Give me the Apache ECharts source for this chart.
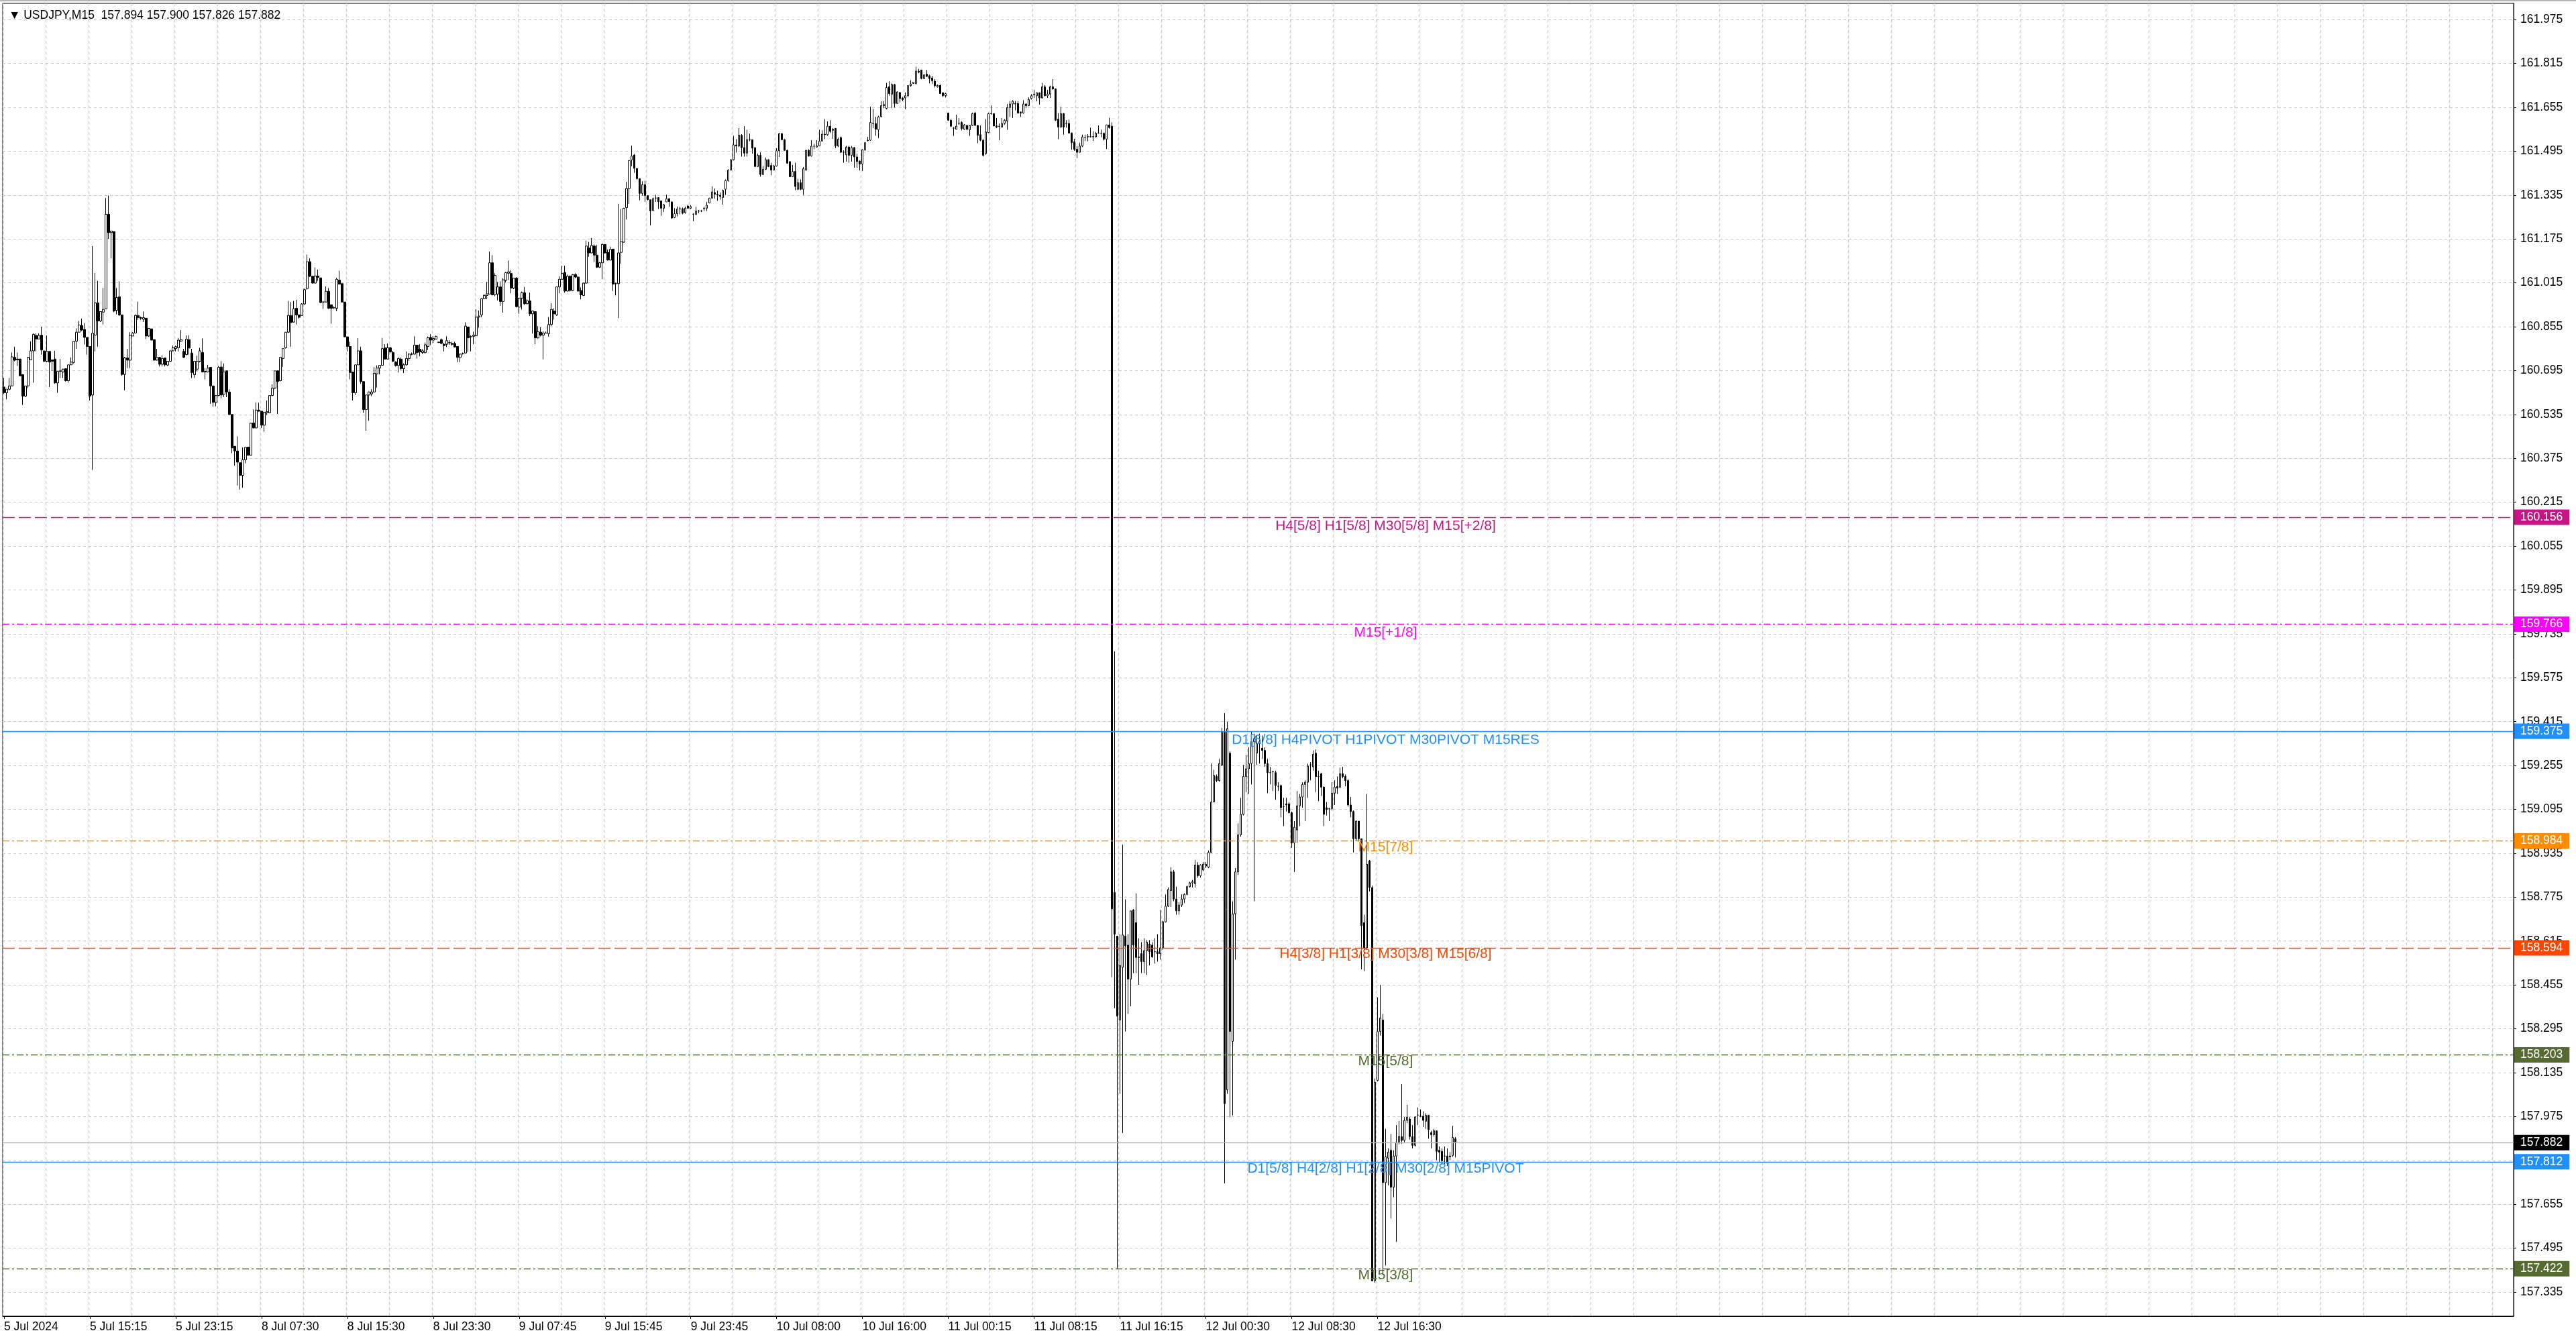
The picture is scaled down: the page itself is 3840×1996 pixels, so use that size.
<!DOCTYPE html>
<html>
<head>
<meta charset="utf-8">
<title>USDJPY,M15</title>
<script src="https://cdn.jsdelivr.net/npm/echarts@6.0.0/dist/echarts.min.js"></script>
<style>
  html, body { margin: 0; padding: 0; background: #fff; }
  #chart { width: 3840px; height: 1996px; }
</style>
</head>
<body>
<div id="chart"></div>
<script>
// symbol / timeframe shown in the top-left corner
var symbolName = "USDJPY,M15";

// time labels, one every 32 bars (8 hours of M15)
var timeLabels = ["5 Jul 2024", "5 Jul 15:15", "5 Jul 23:15", "8 Jul 07:30", "8 Jul 15:30", "8 Jul 23:30",
  "9 Jul 07:45", "9 Jul 15:45", "9 Jul 23:45", "10 Jul 08:00", "10 Jul 16:00", "11 Jul 00:15",
  "11 Jul 08:15", "11 Jul 16:15", "12 Jul 00:30", "12 Jul 08:30", "12 Jul 16:30"];

// price scale labels on the right
var priceTicks = [161.975, 161.815, 161.655, 161.495, 161.335, 161.175, 161.015, 160.855, 160.695, 160.535,
  160.375, 160.215, 160.055, 159.895, 159.735, 159.575, 159.415, 159.255, 159.095, 158.935,
  158.775, 158.615, 158.455, 158.295, 158.135, 157.975, 157.815, 157.655, 157.495, 157.335];

// M15 bars, oldest first
var opens = [
  160.635,160.614,160.627,160.639,160.743,160.737,160.737,160.680,160.602,160.639,
  160.734,160.767,160.823,160.810,160.824,160.767,160.729,160.765,160.734,160.737,
  160.650,160.694,160.690,160.702,160.658,160.716,160.725,160.802,160.835,160.859,
  160.845,160.816,160.783,160.606,160.824,160.942,160.876,160.908,160.920,161.265,
  161.198,161.202,160.915,160.964,160.898,160.681,160.741,160.733,160.821,160.832,
  160.896,160.888,160.882,160.886,160.821,160.847,160.808,160.733,160.743,160.718,
  160.741,160.715,160.729,160.767,160.775,160.778,160.802,160.765,160.753,160.808,
  160.759,160.680,160.700,160.729,160.761,160.692,160.690,160.707,160.639,160.579,
  160.604,160.708,160.609,160.694,160.617,160.535,160.419,160.402,160.359,160.313,
  160.370,160.416,160.386,160.504,160.486,160.551,160.547,160.496,160.541,160.541,
  160.604,160.631,160.694,160.658,160.739,160.778,160.835,160.896,160.872,160.922,
  160.898,160.896,160.938,160.994,161.092,161.039,161.014,161.040,161.033,160.945,
  160.945,160.984,160.935,160.924,160.922,161.025,161.012,160.945,160.818,160.783,
  160.690,160.614,160.716,160.767,160.655,160.553,160.606,160.610,160.617,160.683,
  160.704,160.714,160.778,160.737,160.778,160.761,160.726,160.713,160.737,160.702,
  160.716,160.739,160.755,160.755,160.788,160.773,160.761,160.761,160.783,160.816,
  160.806,160.810,160.799,160.808,160.791,160.791,160.797,160.794,160.794,160.783,
  160.743,160.757,160.759,160.854,160.818,160.820,160.822,160.890,160.898,160.957,
  160.969,160.974,161.088,160.971,160.974,161.000,160.947,161.024,161.050,161.049,
  160.996,161.032,160.926,160.959,160.979,160.939,160.949,160.902,160.910,160.814,
  160.835,160.824,160.832,160.830,160.863,160.912,160.898,161.000,161.028,161.053,
  160.985,161.039,160.987,161.045,161.036,160.987,160.969,161.014,161.142,161.124,
  161.149,161.116,161.072,161.088,161.155,161.126,161.098,161.138,161.012,161.012,
  161.126,161.163,161.289,161.359,161.463,161.481,161.432,161.395,161.341,161.373,
  161.333,161.318,161.279,161.324,161.326,161.314,161.287,161.310,161.322,161.310,
  161.253,161.267,161.285,161.285,161.271,161.295,161.287,161.265,161.265,161.277,
  161.277,161.285,161.287,161.306,161.324,161.344,161.338,161.334,161.326,161.356,
  161.388,161.426,161.464,161.518,161.514,161.553,161.508,161.488,161.537,161.537,
  161.508,161.439,161.480,161.410,161.429,161.464,161.443,161.426,161.441,161.496,
  161.559,161.537,161.498,161.457,161.402,161.421,161.356,161.380,161.356,161.426,
  161.498,161.478,161.513,161.510,161.514,161.532,161.557,161.555,161.586,161.571,
  161.578,161.514,161.545,161.491,161.482,161.510,161.480,161.508,161.474,161.459,
  161.448,161.500,161.533,161.535,161.597,161.596,161.573,161.621,161.661,161.651,
  161.730,161.703,161.738,161.669,161.709,161.689,161.689,161.697,161.734,161.742,
  161.742,161.787,161.791,161.760,161.776,161.770,161.762,161.750,161.730,161.735,
  161.708,161.697,161.634,161.608,161.579,161.575,161.596,161.600,161.575,161.589,
  161.573,161.589,161.634,161.589,161.555,161.535,161.486,161.563,161.632,161.632,
  161.587,161.586,161.583,161.596,161.605,161.654,161.667,161.667,161.669,161.638,
  161.634,161.667,161.661,161.687,161.701,161.697,161.708,161.689,161.730,161.697,
  161.703,161.730,161.722,161.612,161.583,161.632,161.596,161.596,161.561,161.529,
  161.502,161.491,161.514,161.545,161.548,161.547,161.548,161.547,161.561,161.560,
  161.560,161.539,161.591,161.586,158.792,158.633,158.327,158.519,158.633,158.600,
  158.476,158.728,158.682,158.557,158.569,158.540,158.580,158.604,158.600,158.576,
  158.576,158.569,158.590,158.685,158.742,158.799,158.867,158.768,158.725,158.746,
  158.768,158.785,158.813,158.827,158.824,158.892,158.853,158.874,158.888,158.884,
  158.938,159.122,159.215,159.200,159.257,159.378,158.072,159.300,158.249,158.714,
  158.867,159.002,159.077,159.215,159.243,159.262,159.342,159.300,159.335,159.318,
  159.310,159.262,159.229,159.233,159.229,159.179,159.182,159.105,159.115,159.115,
  159.083,158.973,159.020,159.108,159.140,159.186,159.194,159.257,159.250,159.300,
  159.215,159.225,159.176,159.101,159.098,159.098,159.154,159.179,159.176,159.225,
  159.215,159.200,159.111,159.087,158.988,159.052,158.988,158.682,158.590,158.907,
  158.810,157.376,158.107,158.285,158.327,157.734,157.823,157.852,157.717,157.831,
  157.881,157.902,157.888,157.961,157.966,157.902,157.870,157.980,157.976,157.976,
  157.958,157.980,157.916,157.909,157.923,157.852,157.848,157.831,157.831,157.831,
  157.833,157.894];
var closes = [
  160.614,160.627,160.639,160.745,160.733,160.734,160.676,160.602,160.639,160.743,
  160.767,160.827,160.810,160.823,160.770,160.729,160.765,160.726,160.729,160.650,
  160.692,160.692,160.700,160.658,160.716,160.726,160.802,160.835,160.861,160.843,
  160.816,160.783,160.602,160.831,160.942,160.876,160.910,160.918,161.265,161.198,
  161.204,160.912,160.961,160.898,160.681,160.741,160.733,160.823,160.832,160.896,
  160.888,160.886,160.888,160.821,160.849,160.806,160.733,160.743,160.718,160.739,
  160.716,160.729,160.767,160.778,160.782,160.806,160.808,160.743,160.809,160.777,
  160.688,160.729,160.729,160.767,160.690,160.690,160.704,160.639,160.579,160.604,
  160.707,160.606,160.690,160.617,160.535,160.413,160.402,160.361,160.313,160.370,
  160.415,160.386,160.503,160.486,160.551,160.547,160.496,160.543,160.545,160.604,
  160.631,160.694,160.655,160.743,160.775,160.835,160.896,160.870,160.920,160.898,
  160.889,160.938,160.990,161.092,161.039,161.014,161.040,161.035,160.943,160.945,
  160.984,160.922,160.922,160.924,161.028,161.010,160.945,160.818,160.783,160.688,
  160.614,160.716,160.767,160.655,160.553,160.606,160.617,160.617,160.685,160.704,
  160.714,160.775,160.737,160.778,160.763,160.729,160.713,160.739,160.702,160.716,
  160.739,160.755,160.755,160.788,160.761,160.763,160.767,160.789,160.815,160.806,
  160.812,160.820,160.797,160.794,160.786,160.804,160.796,160.791,160.781,160.743,
  160.755,160.757,160.857,160.814,160.819,160.824,160.890,160.894,160.957,160.969,
  160.975,161.088,160.971,161.042,161.000,160.947,161.026,161.052,161.055,160.996,
  161.032,160.928,160.959,160.979,160.939,160.949,160.902,160.912,160.814,160.837,
  160.824,160.832,160.832,160.863,160.918,160.902,161.000,161.028,161.049,160.985,
  161.039,160.987,161.045,161.036,160.985,160.971,161.014,161.149,161.124,161.151,
  161.116,161.072,161.088,161.155,161.124,161.098,161.137,161.010,161.012,161.124,
  161.165,161.287,161.359,161.461,161.477,161.432,161.395,161.341,161.373,161.333,
  161.318,161.277,161.322,161.324,161.311,161.287,161.300,161.322,161.311,161.251,
  161.267,161.284,161.285,161.269,161.287,161.287,161.293,161.265,161.277,161.277,
  161.277,161.287,161.298,161.324,161.346,161.338,161.336,161.330,161.352,161.388,
  161.426,161.464,161.518,161.514,161.553,161.508,161.488,161.537,161.537,161.506,
  161.439,161.480,161.410,161.429,161.464,161.439,161.426,161.441,161.496,161.559,
  161.537,161.498,161.451,161.402,161.421,161.366,161.380,161.356,161.431,161.498,
  161.478,161.513,161.513,161.514,161.532,161.557,161.555,161.586,161.567,161.575,
  161.514,161.539,161.491,161.491,161.510,161.480,161.508,161.474,161.457,161.448,
  161.500,161.526,161.535,161.600,161.596,161.575,161.620,161.661,161.665,161.727,
  161.705,161.738,161.669,161.711,161.687,161.683,161.697,161.734,161.740,161.746,
  161.787,161.783,161.760,161.773,161.768,161.760,161.752,161.734,161.735,161.705,
  161.697,161.705,161.608,161.586,161.579,161.586,161.597,161.578,161.591,161.575,
  161.589,161.632,161.589,161.553,161.535,161.480,161.565,161.632,161.632,161.587,
  161.583,161.585,161.596,161.608,161.654,161.667,161.677,161.669,161.634,161.634,
  161.667,161.661,161.683,161.697,161.703,161.708,161.689,161.730,161.697,161.703,
  161.730,161.722,161.608,161.583,161.632,161.583,161.597,161.561,161.526,161.502,
  161.491,161.514,161.547,161.545,161.547,161.548,161.547,161.561,161.561,161.560,
  161.539,161.591,161.581,158.732,158.640,158.341,158.526,158.637,158.597,158.476,
  158.725,158.600,158.555,158.555,158.540,158.580,158.611,158.576,158.557,158.576,
  158.569,158.590,158.685,158.742,158.803,158.867,158.768,158.725,158.746,158.768,
  158.785,158.813,158.827,158.831,158.892,158.853,158.892,158.895,158.895,158.938,
  159.122,159.219,159.200,159.262,159.378,158.022,159.389,158.285,158.714,158.867,
  159.002,159.077,159.215,159.243,159.262,159.342,159.352,159.335,159.342,159.310,
  159.262,159.229,159.229,159.233,159.182,159.179,159.101,159.105,159.111,159.083,
  158.973,159.030,159.108,159.140,159.186,159.194,159.253,159.257,159.296,159.215,
  159.215,159.176,159.077,159.094,159.098,159.154,159.176,159.172,159.225,159.215,
  159.200,159.111,159.087,158.988,159.052,158.988,158.671,158.590,158.895,158.810,
  157.376,158.100,158.285,158.334,157.734,157.828,157.845,157.717,157.831,157.881,
  157.902,157.888,157.961,157.973,157.902,157.870,157.973,157.980,157.976,157.961,
  157.980,157.927,157.909,157.923,157.848,157.845,157.814,157.831,157.805,157.828,
  157.899,157.882];
var lows = [
  160.610,160.590,160.623,160.639,160.729,160.712,160.676,160.570,160.598,160.631,
  160.734,160.651,160.765,160.810,160.753,160.726,160.725,160.635,160.694,160.647,
  160.614,160.668,160.668,160.655,160.651,160.716,160.721,160.774,160.835,160.839,
  160.790,160.753,160.586,160.333,160.765,160.782,160.872,160.863,160.920,161.175,
  161.104,160.908,160.900,160.894,160.676,160.623,160.704,160.704,160.821,160.831,
  160.880,160.880,160.872,160.810,160.818,160.805,160.731,160.731,160.710,160.710,
  160.710,160.712,160.726,160.765,160.765,160.765,160.800,160.741,160.751,160.753,
  160.668,160.668,160.692,160.725,160.688,160.663,160.688,160.574,160.563,160.565,
  160.602,160.594,160.598,160.598,160.533,160.394,160.349,160.276,160.261,160.268,
  160.357,160.386,160.386,160.484,160.484,160.545,160.486,160.472,160.533,160.539,
  160.602,160.628,160.537,160.655,160.708,160.775,160.832,160.782,160.870,160.863,
  160.884,160.894,160.935,160.990,161.036,161.012,161.012,161.022,160.941,160.920,
  160.943,160.920,160.866,160.920,160.912,161.009,160.943,160.816,160.765,160.663,
  160.586,160.606,160.715,160.647,160.541,160.476,160.512,160.602,160.614,160.633,
  160.681,160.714,160.735,160.735,160.759,160.726,160.710,160.688,160.698,160.686,
  160.713,160.730,160.751,160.753,160.739,160.747,160.755,160.757,160.770,160.788,
  160.796,160.808,160.797,160.791,160.765,160.781,160.789,160.786,160.779,160.726,
  160.726,160.753,160.757,160.763,160.765,160.791,160.820,160.851,160.890,160.955,
  160.955,160.974,160.969,160.966,160.951,160.931,160.906,161.016,161.026,160.977,
  160.992,160.925,160.902,160.918,160.934,160.936,160.894,160.830,160.791,160.812,
  160.820,160.736,160.830,160.819,160.857,160.881,160.895,160.977,161.026,160.979,
  160.983,160.983,160.985,161.032,160.983,160.955,160.967,161.012,161.110,161.122,
  161.091,161.069,161.069,161.028,161.121,161.096,161.096,160.985,160.969,160.886,
  161.085,161.163,161.246,161.303,161.440,161.416,161.391,161.316,161.333,161.310,
  161.316,161.224,161.277,161.310,161.284,161.259,161.273,161.310,161.292,161.249,
  161.251,161.257,161.265,161.265,161.267,161.285,161.284,161.240,161.262,161.269,
  161.273,161.277,161.277,161.306,161.322,161.322,161.314,161.318,161.300,161.335,
  161.384,161.425,161.461,161.490,161.510,161.475,161.475,161.475,161.531,161.486,
  161.437,161.437,161.402,161.409,161.426,161.437,161.407,161.425,161.439,161.474,
  161.535,161.496,161.449,161.400,161.400,161.353,161.353,161.353,161.335,161.425,
  161.475,161.475,161.502,161.508,161.513,161.531,161.539,161.551,161.561,161.540,
  161.506,161.510,161.488,161.453,161.457,161.453,161.457,161.435,161.435,161.425,
  161.423,161.496,161.531,161.533,161.579,161.551,161.543,161.618,161.652,161.648,
  161.697,161.652,161.654,161.667,161.673,161.677,161.648,161.693,161.730,161.740,
  161.738,161.779,161.757,161.758,161.765,161.742,161.740,161.727,161.727,161.703,
  161.693,161.691,161.605,161.583,161.551,161.575,161.591,161.571,161.573,161.571,
  161.551,161.587,161.587,161.524,161.531,161.475,161.482,161.561,161.628,161.586,
  161.579,161.535,161.581,161.591,161.573,161.620,161.616,161.644,161.632,161.620,
  161.632,161.652,161.659,161.683,161.689,161.677,161.665,161.687,161.695,161.689,
  161.689,161.719,161.605,161.539,161.581,161.555,161.581,161.559,161.500,161.496,
  161.470,161.490,161.510,161.532,161.531,161.545,161.532,161.545,161.559,161.546,
  161.534,161.503,161.577,158.483,158.370,157.418,158.058,157.915,158.285,158.349,
  158.377,158.498,158.498,158.455,158.498,158.498,158.491,158.526,158.554,158.533,
  158.540,158.547,158.583,158.682,158.739,158.739,158.760,158.711,158.711,158.739,
  158.753,158.782,158.810,158.810,158.810,158.846,158.846,158.870,158.881,158.881,
  158.938,159.122,159.194,159.196,159.253,157.731,158.058,157.972,157.979,158.547,
  158.856,158.995,159.073,159.158,159.151,159.186,158.760,159.257,159.262,159.279,
  159.250,159.154,159.186,159.162,159.130,159.162,159.066,159.034,159.087,159.080,
  158.955,158.867,158.973,159.034,159.101,159.052,159.137,159.201,159.236,159.158,
  159.125,159.144,159.034,159.073,159.052,159.091,159.111,159.151,159.172,159.208,
  159.179,159.105,159.066,158.938,158.980,158.978,158.512,158.505,158.583,158.796,
  157.376,157.369,158.103,158.270,157.397,157.432,157.724,157.603,157.681,157.518,
  157.874,157.876,157.881,157.951,157.891,157.859,157.866,157.944,157.973,157.937,
  157.930,157.894,157.859,157.902,157.816,157.809,157.799,157.802,157.795,157.816,
  157.828,157.826];
var highs = [
  160.668,160.627,160.668,160.761,160.782,160.761,160.737,160.680,160.639,160.745,
  160.802,160.831,160.831,160.831,160.855,160.767,160.823,160.765,160.734,160.767,
  160.692,160.737,160.702,160.702,160.716,160.743,160.802,160.849,160.876,160.884,
  160.868,160.816,160.783,161.149,161.051,161.022,160.910,160.996,161.324,161.333,
  161.204,161.202,160.996,161.020,160.898,160.745,160.774,160.835,160.835,160.900,
  160.946,160.892,160.910,160.886,160.849,160.847,160.808,160.774,160.745,160.751,
  160.741,160.729,160.767,160.786,160.786,160.814,160.843,160.774,160.823,160.824,
  160.774,160.729,160.749,160.778,160.812,160.704,160.716,160.708,160.639,160.606,
  160.712,160.729,160.721,160.696,160.627,160.535,160.419,160.455,160.359,160.415,
  160.415,160.416,160.504,160.553,160.579,160.578,160.547,160.545,160.586,160.604,
  160.645,160.694,160.694,160.743,160.775,160.835,160.949,160.945,160.949,160.953,
  160.900,160.941,160.994,161.118,161.104,161.039,161.071,161.063,161.033,160.949,
  161.002,160.996,160.935,160.929,161.033,161.059,161.012,160.945,160.818,160.800,
  160.690,160.716,160.813,160.782,160.655,160.606,160.619,160.627,160.708,160.714,
  160.714,160.814,160.791,160.794,160.781,160.767,160.729,160.743,160.743,160.721,
  160.765,160.759,160.761,160.820,160.789,160.791,160.773,160.797,160.819,160.828,
  160.820,160.822,160.799,160.812,160.796,160.820,160.806,160.800,160.800,160.783,
  160.757,160.761,160.871,160.854,160.824,160.837,160.918,160.914,160.959,160.974,
  161.018,161.129,161.116,161.050,161.018,161.020,161.032,161.055,161.096,161.061,
  161.034,161.036,160.961,160.983,161.000,160.955,160.979,160.914,160.910,160.857,
  160.853,160.838,160.837,160.890,160.941,160.922,161.000,161.039,161.077,161.077,
  161.045,161.042,161.047,161.050,161.039,160.998,161.016,161.169,161.164,161.178,
  161.155,161.153,161.091,161.159,161.156,161.137,161.147,161.138,161.016,161.303,
  161.284,161.287,161.383,161.461,161.515,161.485,161.432,161.395,161.385,161.387,
  161.334,161.318,161.326,161.336,161.326,161.314,161.303,161.336,161.322,161.311,
  161.287,161.293,161.292,161.289,161.293,161.300,161.298,161.269,161.292,161.281,
  161.281,161.292,161.310,161.324,161.367,161.359,161.351,161.344,161.355,161.392,
  161.429,161.465,161.551,161.539,161.579,161.557,161.586,161.573,161.559,161.537,
  161.508,161.486,161.491,161.441,161.472,161.465,161.453,161.445,161.506,161.561,
  161.561,161.539,161.500,161.457,161.445,161.453,161.394,161.392,161.437,161.500,
  161.502,161.535,161.522,161.535,161.573,161.571,161.612,161.604,161.608,161.579,
  161.578,161.545,161.548,161.498,161.514,161.514,161.514,161.510,161.486,161.461,
  161.502,161.526,161.547,161.657,161.649,161.620,161.624,161.677,161.678,161.744,
  161.750,161.742,161.740,161.713,161.709,161.693,161.709,161.735,161.754,161.746,
  161.803,161.795,161.792,161.776,161.791,161.774,161.770,161.758,161.738,161.738,
  161.709,161.708,161.636,161.610,161.583,161.628,161.616,161.604,161.594,161.591,
  161.591,161.636,161.638,161.591,161.589,161.539,161.612,161.636,161.662,161.632,
  161.616,161.596,161.616,161.612,161.667,161.678,161.681,161.678,161.678,161.640,
  161.681,161.669,161.691,161.703,161.719,161.709,161.709,161.744,161.736,161.718,
  161.734,161.758,161.724,161.634,161.657,161.634,161.608,161.610,161.563,161.540,
  161.514,161.526,161.555,161.555,161.557,161.581,161.568,161.565,161.589,161.574,
  161.563,161.591,161.617,161.600,159.671,158.633,158.640,158.966,158.767,158.640,
  158.725,158.732,158.789,158.625,158.611,158.625,158.618,158.618,158.611,158.625,
  158.640,158.728,158.689,158.785,158.810,158.884,158.874,158.813,158.756,158.785,
  158.789,158.817,158.831,158.838,158.910,158.903,158.895,158.903,158.903,158.945,
  159.262,159.239,159.222,159.279,159.392,159.446,159.414,159.307,158.760,158.881,
  159.044,159.137,159.257,159.293,159.321,159.378,159.371,159.364,159.371,159.364,
  159.321,159.279,159.250,159.236,159.236,159.194,159.186,159.137,159.137,159.122,
  159.087,159.052,159.162,159.151,159.194,159.201,159.262,159.267,159.310,159.314,
  159.236,159.229,159.179,159.122,159.101,159.194,159.201,159.215,159.247,159.250,
  159.222,159.205,159.140,159.091,159.055,159.052,158.988,158.711,159.151,158.910,
  158.817,158.114,158.410,158.455,158.349,157.930,157.859,157.911,157.852,157.944,
  157.959,158.093,157.973,158.018,157.973,157.944,157.976,158.008,158.001,157.994,
  157.987,157.980,157.923,157.930,157.923,157.866,157.859,157.866,157.859,157.845,
  157.941,157.900];

// Murrey-math levels drawn across the chart
var levelValues = [160.156, 159.766, 159.375, 158.984, 158.594, 158.203, 157.812, 157.422];
var levelNames = ["H4[5/8] H1[5/8] M30[5/8] M15[+2/8]", "M15[+1/8]",
  "D1[6/8] H4PIVOT H1PIVOT M30PIVOT M15RES", "M15[7/8]",
  "H4[3/8] H1[3/8] M30[3/8] M15[6/8]", "M15[5/8]",
  "D1[5/8] H4[2/8] H1[2/8] M30[2/8] M15PIVOT", "M15[3/8]"];

// styles for the levels
var levelColors = ["#C71585", "#FF00FF", "#1E90FF", "#FF8C00", "#FF4500", "#556B2F", "#1E90FF", "#556B2F"];
var levelStyles = ["dash", "dashdot", "solid", "dashdot", "dash", "dashdot", "solid", "dashdot"];

var FONT = "'Liberation Sans', Arial, sans-serif";
var barsOnScreen = 936;   // room for the empty space right of the last bar
var textAnchorBar = 515;  // level captions are centred over this bar

var chart = echarts.init(document.getElementById("chart"));

var categories = [];
for (var i = 0; i < barsOnScreen; i++) {
  categories.push(String(i));
}
var candles = opens.map(function (o, i) {
  return [o, closes[i], lows[i], highs[i]];
});
var last = opens.length - 1;

function dashOf(s) {
  if (s === "dash") return [18, 6];
  if (s === "dashdot") return [10, 4, 3, 4];
  return "solid";
}

function priceTag(value, bg, lineColor, style) {
  return {
    yAxis: value,
    lineStyle: { color: lineColor, type: dashOf(style), width: 1.4, opacity: 1 },
    label: {
      show: true,
      position: "end",
      distance: 1,
      formatter: value.toFixed(3),
      color: "#fff",
      backgroundColor: bg,
      padding: [3, 10, 2, 9],
      fontSize: 17.5,
      fontFamily: FONT
    }
  };
}

var lineData = levelValues.map(function (v, i) {
  return priceTag(v, levelColors[i], levelColors[i], levelStyles[i]);
});
// current price (last close)
lineData.push(priceTag(closes[last], "#000", "#B8B8B8", "solid"));

var captionData = levelValues.map(function (v, i) {
  return {
    coord: [textAnchorBar, v],
    label: {
      show: true,
      position: "bottom",
      distance: 0,
      formatter: levelNames[i],
      color: levelColors[i],
      fontSize: 21,
      fontFamily: FONT
    }
  };
});

var option = {
  animation: false,
  backgroundColor: "#fff",
  // symbol and last bar values
  title: {
    text: "\u25BC " + symbolName + "  " +
      [opens[last], highs[last], lows[last], closes[last]].map(function (v) { return v.toFixed(3); }).join(" "),
    left: 8,
    top: 9,
    textStyle: { fontSize: 17.5, fontWeight: "normal", color: "#000", fontFamily: FONT }
  },
  graphic: [
    { type: "rect", shape: { x: 0, y: 0, width: 3840, height: 2 }, style: { fill: "#B4B4B4" }, silent: true }
  ],
  grid: {
    left: 4, right: 93, top: 5, bottom: 34,
    show: true, borderColor: "#000", borderWidth: 1, backgroundColor: "#fff"
  },
  xAxis: {
    type: "category",
    data: categories,
    boundaryGap: true,
    axisLine: { show: true, lineStyle: { color: "#000" } },
    axisTick: {
      show: true, alignWithLabel: true, length: 4, lineStyle: { color: "#000" },
      interval: function (idx) { return idx % 32 === 0 && idx / 32 < timeLabels.length; }
    },
    axisLabel: {
      interval: function (idx) { return idx % 32 === 0 && idx / 32 < timeLabels.length; },
      formatter: function (v, idx) { return timeLabels[idx / 32]; },
      align: "left",
      margin: 7,
      color: "#000",
      fontSize: 17.5,
      fontFamily: FONT
    },
    splitLine: {
      show: true,
      interval: function (idx) { return idx % 16 === 0; },
      lineStyle: { color: "#C8C8C8", type: [4, 4], width: 1 }
    }
  },
  yAxis: {
    type: "value",
    position: "right",
    min: 157.247,
    max: 162.034,
    axisLine: { show: true, lineStyle: { color: "#000" } },
    axisTick: { show: true, customValues: priceTicks, length: 4, lineStyle: { color: "#000" } },
    axisLabel: {
      customValues: priceTicks,
      margin: 10,
      color: "#000",
      fontSize: 17.5,
      fontFamily: FONT,
      formatter: function (v) { return v.toFixed(3); }
    },
    splitLine: { show: true, lineStyle: { color: "#C8C8C8", type: [4, 4], width: 1 } }
  },
  series: [
    {
      name: symbolName,
      type: "candlestick",
      data: candles,
      barWidth: 3,
      silent: true,
      itemStyle: {
        color: "#fff",
        color0: "#000",
        borderColor: "#000",
        borderColor0: "#000",
        borderWidth: 1
      },
      markLine: {
        silent: true,
        symbol: ["none", "none"],
        data: lineData
      },
      markPoint: {
        silent: true,
        symbol: "rect",
        symbolSize: 1,
        itemStyle: { color: "rgba(0,0,0,0)" },
        data: captionData
      }
    }
  ]
};

chart.setOption(option);
</script>
</body>
</html>
